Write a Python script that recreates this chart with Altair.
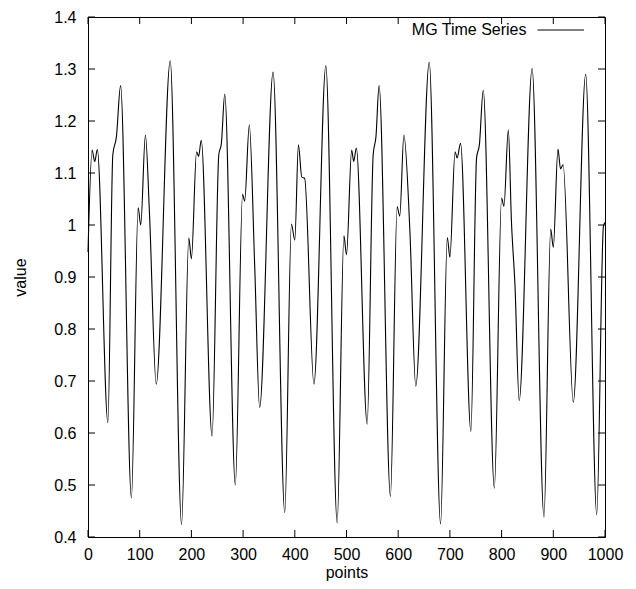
import altair as alt
import pandas as pd

# Mackey-Glass series: extrema and shoulders
points = [0, 8, 13, 18, 38.5, 48, 55, 63, 84, 97, 102, 111, 119, 132, 159, 181,
          195, 200, 210, 214, 219, 240, 253, 258, 264.5, 285, 299, 303, 312, 322.5,
          332, 358, 380.6, 393.5, 400, 407, 413.5, 419, 437, 460, 482, 495, 500,
          510, 514, 519, 540, 551.6, 557, 563, 585, 598, 603, 611, 622.6, 634, 660,
          682, 695, 700, 710, 714, 720.6, 740.6, 751.6, 757, 764.5, 786, 800, 804.5,
          813, 819, 826, 834, 859, 882, 895, 900, 909, 914, 919, 938.7, 962.6, 984,
          997, 1000]
values = [0.948, 1.144, 1.122, 1.145, 0.62, 1.135, 1.17, 1.268, 0.475, 1.033, 1.0,
          1.173, 1.02, 0.694, 1.316, 0.424, 0.975, 0.935, 1.141, 1.132, 1.163, 0.594,
          1.135, 1.157, 1.252, 0.50, 1.059, 1.046, 1.192, 0.919, 0.649, 1.294, 0.447,
          1.002, 0.971, 1.154, 1.092, 1.09, 0.694, 1.306, 0.427, 0.979, 0.943, 1.144,
          1.122, 1.148, 0.617, 1.135, 1.17, 1.268, 0.478, 1.035, 1.017, 1.173, 0.989,
          0.690, 1.313, 0.425, 0.976, 0.938, 1.141, 1.129, 1.157, 0.603, 1.129, 1.154,
          1.259, 0.494, 1.052, 1.036, 1.183, 1.008, 0.881, 0.662, 1.301, 0.438, 0.992,
          0.957, 1.146, 1.108, 1.116, 0.659, 1.29, 0.443, 0.998, 1.005]

x_ticks = [0, 100, 200, 300, 400, 500, 600, 700, 800, 900, 1000]
y_ticks = [0.4, 0.5, 0.6, 0.7, 0.8, 0.9, 1.0, 1.1, 1.2, 1.3, 1.4]
series_name = ["MG Time Series"]

W, H = 517, 520
FONT = "Liberation Sans"
FS = 16
TICK = 7

df = pd.DataFrame({"points": points, "value": values})
xt = pd.DataFrame({"points": x_ticks})
yt = pd.DataFrame({"value": y_ticks})
leg = pd.DataFrame({"label": series_name})

xscale = alt.Scale(domain=[0, 1000], nice=False, zero=False)
yscale = alt.Scale(domain=[0.4, 1.4], nice=False, zero=False)

x_axis = alt.Axis(values=x_ticks, format="d", title="points", ticks=False, tickSize=0,
                  domain=False, grid=False, labelPadding=9, labelFontSize=FS,
                  labelFont=FONT, labelColor="black", labelFlush=False,
                  labelOverlap=False, titleFontSize=FS, titleFont=FONT,
                  titleFontWeight="normal", titleColor="black", titleX=W / 2,
                  titleY=35, titleBaseline="middle")
y_axis = alt.Axis(values=y_ticks, format="~g", title="value", ticks=False, tickSize=0,
                  domain=False, grid=False, labelPadding=12, labelFontSize=FS,
                  labelFont=FONT, labelColor="black", labelFlush=False,
                  labelOverlap=False, titleFontSize=FS, titleFont=FONT,
                  titleFontWeight="normal", titleColor="black", titleX=-68,
                  titleY=H / 2, titleAngle=270, titleBaseline="middle")

line = alt.Chart(df).mark_line(color="black", strokeWidth=1.1, interpolate="monotone").encode(
    x=alt.X("points:Q", scale=xscale, axis=x_axis),
    y=alt.Y("value:Q", scale=yscale, axis=y_axis),
)

bottom_ticks = alt.Chart(xt).mark_rule(color="black", strokeWidth=1).encode(
    x=alt.X("points:Q", scale=xscale), y=alt.value(H), y2=alt.value(H - TICK))
top_ticks = alt.Chart(xt).mark_rule(color="black", strokeWidth=1).encode(
    x=alt.X("points:Q", scale=xscale), y=alt.value(0), y2=alt.value(TICK))
left_ticks = alt.Chart(yt).mark_rule(color="black", strokeWidth=1).encode(
    y=alt.Y("value:Q", scale=yscale), x=alt.value(0), x2=alt.value(TICK))
right_ticks = alt.Chart(yt).mark_rule(color="black", strokeWidth=1).encode(
    y=alt.Y("value:Q", scale=yscale), x=alt.value(W), x2=alt.value(W - TICK))

leg_text = alt.Chart(leg).mark_text(align="right", baseline="middle", font=FONT,
                                    fontSize=FS, color="black").encode(
    text="label:N", x=alt.value(438.5), y=alt.value(13))
leg_line = alt.Chart(leg).mark_rule(color="black", strokeWidth=1).encode(
    x=alt.value(449.5), x2=alt.value(496), y=alt.value(13))

chart = alt.layer(line, bottom_ticks, top_ticks, left_ticks, right_ticks,
                  leg_text, leg_line).properties(
    width=W, height=H,
    autosize=alt.AutoSizeParams(type="none"),
    padding={"left": 80, "top": 9, "right": 20, "bottom": 44},
    background="white",
).configure_view(stroke="black", strokeWidth=1)

chart.save("out.html", embed_options={"renderer": "svg", "actions": False})
